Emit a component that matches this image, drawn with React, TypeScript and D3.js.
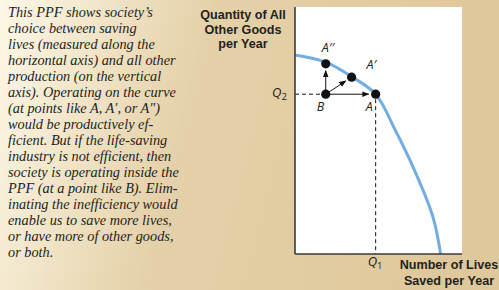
import React from "react";
import * as d3 from "d3";

// PPF curve (lives saved vs. other goods), in axis units 0–100
const curveLives = [0, 18.4, 33.9, 48.3, 60, 70.7, 82.6, 87.2];
const curveGoods = [80.6, 77.7, 71.8, 64.7, 50.2, 35.2, 15.0, 0];

const pointNames = ["A''", "A'", "B", "A"];
const pointLives = [18.4, 33.9, 18.4, 48.3];
const pointGoods = [77.0, 71.6, 64.7, 64.7];

const q1Value = 48.3;
const q2Value = 64.7;

const yTitle = ["Quantity of All", "Other Goods", "per Year"];
const xTitle = ["Number of Lives", "Saved per Year"];

const caption = [
  "This PPF shows society\u2019s",
  "choice between saving",
  "lives (measured along the",
  "horizontal axis) and all other",
  "production (on the vertical",
  "axis). Operating on the curve",
  "(at points like A, A\u2032, or A\u2033)",
  "would be productively ef-",
  "ficient. But if the life-saving",
  "industry is not efficient, then",
  "society is operating inside the",
  "PPF (at a point like B). Elim-",
  "inating the inefficiency would",
  "enable us to save more lives,",
  "or have more of other goods,",
  "or both.",
];

export default function App() {
  const W = 499, H = 290;
  const left = 295, right = 462, top = 7, bottom = 254;
  const x = d3.scaleLinear().domain([0, 100]).range([left, right]);
  const y = d3.scaleLinear().domain([0, 100]).range([bottom, top]);

  const curveData = curveLives.map((v, i) => [v, curveGoods[i]] as [number, number]);
  const line = d3
    .line<[number, number]>()
    .x((d) => x(d[0]))
    .y((d) => y(d[1]))
    .curve(d3.curveCatmullRom.alpha(0.5));

  const pts = pointNames.map((n, i) => ({ n, px: x(pointLives[i]), py: y(pointGoods[i]) }));
  const P = Object.fromEntries(pts.map((p) => [p.n, p]));
  const B = P["B"];

  const sans = "'Open Sans', 'Noto Sans', sans-serif";
  const titleFont = "'Liberation Sans', Arial, sans-serif";
  const labelOffsets: Record<string, [number, number]> = {
    "A''": [-4, -12],
    "A'": [15, -8],
    B: [-9, 17],
    A: [-10, 17],
  };

  const arrow = (to: { px: number; py: number }) => {
    const dx = to.px - B.px, dy = to.py - B.py;
    const len = Math.hypot(dx, dy);
    const r = 7;
    return { x2: B.px + (dx * (len - r)) / len, y2: B.py + (dy * (len - r)) / len };
  };

  return (
    <svg
      width={W}
      height={H}
      style={{ position: "absolute", left: 0, top: 0, display: "block" }}
    >
      <defs>
        <linearGradient id="bg" x1="0" y1="0" x2="1" y2="0.15">
          <stop offset="0" stopColor="#fdf8e7" />
          <stop offset="0.42" stopColor="#e5d1a9" />
          <stop offset="1" stopColor="#dfc89b" />
        </linearGradient>
        <marker
          id="ah"
          viewBox="0 0 10 10"
          refX="9"
          refY="5"
          markerWidth="7"
          markerHeight="7"
          orient="auto"
          markerUnits="userSpaceOnUse"
        >
          <path d="M0,1 L10,5 L0,9 Z" fill="#111" />
        </marker>
      </defs>
      <rect x={0} y={0} width={W} height={H} fill="url(#bg)" />
      <rect x={left} y={top} width={right - left} height={bottom - top} fill="#fff" />

      {/* caption */}
      <g fontFamily="'Liberation Serif', serif" fontStyle="italic" fontSize={14.3} fill="#231f20">
        {caption.map((t, i) => (
          <text key={i} x={8} y={16.7 + i * 16}>
            {t}
          </text>
        ))}
      </g>

      {/* dashed guides */}
      <line x1={left} x2={B.px} y1={y(q2Value)} y2={y(q2Value)} stroke="#111" strokeWidth={1} strokeDasharray="4,3" />
      <line x1={x(q1Value)} x2={x(q1Value)} y1={y(q2Value) + 5} y2={bottom} stroke="#111" strokeWidth={1} strokeDasharray="4,3" />

      {/* curve */}
      <path d={line(curveData) || ""} fill="none" stroke="#74aee0" strokeWidth={3} />

      {/* axes */}
      <line x1={left} x2={left} y1={top} y2={bottom} stroke="#3a3a3a" strokeWidth={1.6} />
      <line x1={left} x2={right} y1={bottom} y2={bottom} stroke="#3a3a3a" strokeWidth={1.6} />

      {/* arrows */}
      {["A''", "A'", "A"].map((n) => {
        const a = arrow(P[n]);
        return (
          <line key={n} x1={B.px} y1={B.py} x2={a.x2} y2={a.y2} stroke="#111" strokeWidth={1} markerEnd="url(#ah)" />
        );
      })}

      {/* points */}
      {pts.map((p) => (
        <circle key={p.n} cx={p.px} cy={p.py} r={4.6} fill="#111" />
      ))}
      {pts.map((p) => (
        <text
          key={"l" + p.n}
          x={p.px + labelOffsets[p.n][0]}
          y={p.py + labelOffsets[p.n][1]}
          fontFamily={sans}
          fontStyle="italic"
          fontSize={12.5}
          fill="#222"
        >
          {p.n.replace("''", "\u2032\u2032").replace("'", "\u2032")}
        </text>
      ))}

      {/* Q labels */}
      <text x={272} y={y(q2Value) + 3} fontFamily={sans} fontStyle="italic" fontSize={13} fill="#222">
        Q<tspan fontSize={9.5} fontStyle="normal" dy={3}>2</tspan>
      </text>
      <text x={x(q1Value) - 8} y={266} fontFamily={sans} fontStyle="italic" fontSize={13} fill="#222">
        Q<tspan fontSize={9.5} fontStyle="normal" dy={3}>1</tspan>
      </text>

      {/* axis titles */}
      <g fontFamily={titleFont} fontWeight={700} fontSize={12.6} fill="#231f20" textAnchor="middle">
        {yTitle.map((t, i) => (
          <text key={t} x={243} y={19 + i * 14.5}>
            {t}
          </text>
        ))}
        {xTitle.map((t, i) => (
          <text key={t} x={449} y={269 + i * 15.5}>
            {t}
          </text>
        ))}
      </g>
    </svg>
  );
}
